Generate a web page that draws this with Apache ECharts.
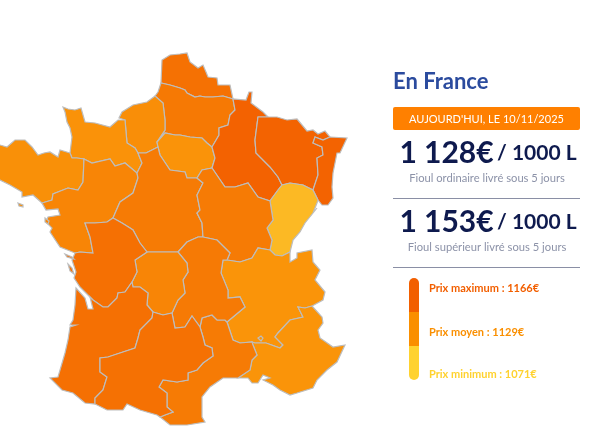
<!DOCTYPE html>
<html><head><meta charset="utf-8">
<style>html,body{margin:0;padding:0;background:#fff}#c{width:614px;height:443px}</style>
<script src="https://cdn.jsdelivr.net/npm/echarts@6/dist/echarts.min.js"></script>
</head><body><div id="c"></div>
<script>
// ---- data ----
const regionNames = ['Nord-Pas-de-Calais','Picardie','Haute-Normandie','Basse-Normandie','Bretagne','Pays de la Loire','Île-de-France','Centre','Champagne-Ardenne','Lorraine','Alsace','Franche-Comté','Bourgogne','Rhône-Alpes','PACA','Languedoc-Roussillon','Auvergne','Limousin','Poitou-Charentes','Aquitaine','Midi-Pyrénées'];
const regionPrices = [1150,1143,1124,1120,1122,1132,1119,1141,1163,1162,1162,1079,1141,1118,1118,1141,1142,1132,1151,1151,1150];
const colorStops = ['#FDC02A','#FA9409','#F25F00'];
const priceMin = 1071, priceMax = 1166;
const dateLabel = "AUJOURD'HUI, LE 10/11/2025";
const priceTexts = ['1 128€','1 153€'];
const priceUnit = '/ 1000 L';
const priceNotes = ['Fioul ordinaire livré sous 5 jours','Fioul supérieur livré sous 5 jours'];
const legendLabels = ['Prix maximum : 1166€','Prix moyen : 1129€','Prix minimum : 1071€'];
const legendColors = ['#F25F00','#FA8F00','#FFD22F'];

// map outline pieces, shared between neighbouring regions
const arcs = {
 nordCoast:[[161,83],[162,60],[170,55],[180,54],[187,53],[190,62],[198,68],[203,65],[206,72],[208,77],[217,78],[218,85],[230,85],[233,99]],
 nordPic:[[161,83],[170,85],[180,88],[185,90],[187,93],[195,97],[200,96],[205,97],[213,97],[223,96],[233,99]],
 picCoast:[[155,96],[158,92],[161,83]],
 picHN:[[155,96],[163,103],[165,120],[165,130],[157,142]],
 picIdf:[[157,142],[165,133],[175,135],[180,135],[190,137],[202,138],[207,143],[212,147]],
 picChamp:[[212,147],[219,135],[219,128],[228,125],[230,115],[235,110],[233,99]],
 hnCoast:[[125,120],[119,118],[122,112],[133,105],[147,102],[155,96]],
 hnBn:[[125,120],[127,143],[135,148],[138,153]],
 hnIdf:[[157,142],[158,147]],
 hnCentre:[[158,147],[146,153],[138,153]],
 bnCoast:[[70,153],[72,137],[70,128],[67,122],[65,112],[63,107],[68,109],[75,110],[81,108],[83,115],[85,122],[95,123],[110,127],[118,120],[125,120]],
 bnCentre:[[138,153],[142,163],[137,173]],
 bnPdl:[[137,173],[125,163],[115,166],[110,159],[92,163],[84,159]],
 bnBret:[[84,159],[77,158],[72,158],[70,153]],
 bretCoast:[[70,153],[60,150],[58,157],[50,152],[44,153],[38,155],[32,147],[25,140],[15,140],[7,147],[0,145],[-6,146],[-6,178],[0,180],[10,185],[22,192],[22,197],[33,195],[42,203]],
 bretPdl:[[84,159],[83,182],[78,190],[68,188],[53,194],[52,200],[42,203]],
 pdlCoast:[[42,203],[46,210],[58,209],[60,215],[48,217],[46,222],[52,228],[50,232],[60,247],[75,253]],
 pdlPoitou:[[75,253],[80,252],[93,253],[90,237],[85,223],[95,223],[107,222],[113,218]],
 pdlCentre:[[137,173],[138,178],[133,193],[120,202],[113,218]],
 idfCentre:[[158,147],[160,155],[170,170],[185,172],[187,178],[197,178]],
 idfBourg:[[212,168],[202,170],[197,178]],
 idfChamp:[[212,147],[215,158],[212,168]],
 centreBourg:[[197,178],[203,183],[197,195],[200,210],[197,213],[202,223],[203,237]],
 centrePoitou:[[113,218],[122,223],[130,228],[133,230],[140,243],[147,252]],
 centreLim:[[147,252],[163,252],[178,252]],
 centreAuv:[[178,252],[187,242],[198,237],[203,237]],
 champCoast:[[233,99],[246,100],[249,92],[252,92],[251,103],[263,112],[268,117]],
 champLor:[[268,117],[258,117],[255,140],[256,153],[270,167],[278,177],[282,185]],
 champFc:[[282,185],[278,190],[270,201]],
 champBourg:[[212,168],[225,187],[235,187],[248,183],[258,197],[270,201]],
 lorCoast:[[268,117],[277,117],[287,120],[297,119],[307,131],[313,130],[318,134],[325,131],[330,137]],
 lorAls:[[330,137],[323,140],[315,137],[313,143],[322,147],[323,155],[317,158],[318,175],[313,190]],
 lorFc:[[282,185],[290,183],[303,185],[313,190]],
 alsCoast:[[330,137],[347,138],[340,153],[337,153],[333,173],[332,187],[333,198],[328,205],[322,205],[318,200]],
 alsFc:[[313,190],[318,200]],
 fcCoast:[[318,200],[317,203],[313,213],[317,208],[305,223],[300,232],[293,240],[290,252]],
 fcRa:[[270,250],[275,255],[282,256],[290,252]],
 fcBourg:[[270,201],[273,220],[267,228],[272,240],[270,250]],
 bourgAuv:[[203,237],[217,240],[230,253],[227,260]],
 bourgRa:[[227,260],[240,262],[252,258],[258,248],[270,250]],
 raCoast:[[290,252],[290,262],[297,258],[297,253],[312,250],[313,262],[320,270],[315,280],[325,292],[323,300],[312,306]],
 raPaca:[[312,306],[305,308],[298,307],[303,317],[290,320],[278,333],[275,337],[283,345],[280,348],[266,343],[255,343],[252,342]],
 raAuv:[[227,260],[223,260],[221,273],[228,290],[228,298],[240,297],[245,307],[227,322]],
 raLr:[[227,322],[233,340],[240,343],[252,342]],
 pacaLr:[[252,342],[253,345],[257,355],[252,360],[250,370],[238,378]],
 pacaCoast:[[238,378],[248,378],[252,383],[258,383],[263,375],[270,378],[263,380],[273,385],[280,390],[290,395],[297,393],[313,388],[317,380],[327,370],[337,362],[345,345],[333,347],[320,338],[318,330],[323,323],[322,317],[312,306]],
 lrCoast:[[238,378],[223,378],[210,387],[202,397],[202,417],[205,422],[187,425],[170,425],[160,417]],
 lrMp:[[200,327],[203,337],[205,345],[212,348],[213,356],[203,363],[197,370],[188,373],[188,380],[177,382],[163,380],[159,387],[167,393],[167,407],[173,412],[165,415],[160,417]],
 auvLr:[[200,327],[202,318],[212,315],[217,320],[225,320],[227,322]],
 auvLim:[[178,252],[187,263],[188,272],[183,280],[185,293],[178,300],[172,313]],
 auvMp:[[172,313],[175,328],[185,327],[192,316],[200,327]],
 limPoitou:[[147,252],[135,260],[137,272],[132,282]],
 limAquit:[[132,282],[133,287],[140,287],[148,293],[147,305],[153,312]],
 limMp:[[153,312],[163,315],[172,313]],
 poitouCoast:[[75,253],[72,260],[76,272],[74,278],[80,287],[90,297]],
 poitouAquit:[[132,282],[125,292],[118,293],[117,298],[108,307],[103,307],[93,300],[90,297]],
 aquitCoast:[[90,297],[93,309],[88,309],[85,298],[76,288],[75,305],[73,320],[70,325],[76,325],[70,327],[68,340],[65,353],[58,377],[50,378],[62,390],[73,393],[85,403],[95,404]],
 aquitMp:[[153,312],[152,318],[140,330],[138,338],[135,348],[120,353],[108,357],[100,358],[100,372],[107,377],[103,390],[95,398],[95,404]],
 mpSouth:[[95,404],[107,410],[123,410],[127,404],[140,410],[157,415],[160,417]]
};
const rings = [
 'nordCoast -nordPic','picCoast nordPic -picChamp -picIdf -picHN','hnCoast picHN hnIdf hnCentre -hnBn',
 'bnCoast hnBn bnCentre bnPdl bnBret','bretCoast -bretPdl bnBret','-bnPdl pdlCentre -pdlPoitou -pdlCoast -bretPdl',
 'picIdf idfChamp idfBourg -idfCentre -hnIdf','hnCentre bnCentre pdlCentre centrePoitou centreLim centreAuv -centreBourg -idfCentre',
 'picChamp champCoast champLor champFc -champBourg -idfChamp','lorCoast lorAls -lorFc -champLor','alsCoast -alsFc -lorAls',
 'lorFc alsFc fcCoast -fcRa -fcBourg -champFc','idfBourg centreBourg bourgAuv bourgRa -fcBourg -champBourg',
 'fcRa raCoast raPaca -raLr -raAuv bourgRa','raPaca pacaLr pacaCoast','raLr pacaLr lrCoast -lrMp auvLr',
 'centreAuv bourgAuv raAuv -auvLr -auvMp -auvLim','centreLim auvLim -limMp -limAquit -limPoitou',
 'pdlPoitou centrePoitou limPoitou poitouAquit -poitouCoast','-poitouAquit limAquit aquitMp -aquitCoast',
 'limMp auvMp lrMp -mpSouth -aquitMp'
];
const islands = [['Belle-Île',[[18,203],[23,205],[23,207],[19,206]],1122],['Noirmoutier',[[45,218],[49,221],[48,224],[45,222]],1132],['Ré',[[65,254],[72,257],[74,259],[67,257]],1151],['Oléron',[[68,264],[72,268],[74,274],[70,271]],1151],['Avignon',[[258,338],[261,336],[263,338],[261,341]],1118]];

// ---- build map ----
const toGeo = p => [p[0], 443 - p[1]];
function ringCoords(spec){
  let out = [];
  spec.split(' ').forEach(k => {
    const rev = k[0] === '-';
    const a = arcs[rev ? k.slice(1) : k];
    const pts = rev ? a.slice().reverse() : a;
    out = out.concat(out.length ? pts.slice(1) : pts);
  });
  return out.map(toGeo);
}
const features = regionNames.map((n,i) => ({type:'Feature',properties:{name:n},geometry:{type:'Polygon',coordinates:[ringCoords(rings[i])]}}));
islands.forEach(s => { const c = s[1].map(toGeo); c.push(c[0]); features.push({type:'Feature',properties:{name:s[0]},geometry:{type:'Polygon',coordinates:[c]}}); });
echarts.registerMap('fr',{type:'FeatureCollection',features});
const mapData = regionNames.map((n,i)=>({name:n,value:regionPrices[i]})).concat(islands.map(s=>({name:s[0],value:s[2]})));

// ---- side panel ----
const FONT='Lato';
const g=[];
const txt=(x,y,text,size,color,weight,align)=>g.push({type:'text',x,y,style:{text,font:`${weight||'normal'} ${size}px ${FONT}`,fill:color,align:align||'left',verticalAlign:'middle'}});
txt(393,82,'En France',22,'#2B4B9E','bold');
g.push({type:'rect',shape:{x:393,y:107,width:187,height:23,r:2},style:{fill:'#FF8000'}});
txt(486.5,119,dateLabel,11,'#fff','normal','center');
[[153,178],[222,247]].forEach((r,i)=>{
  g.push({type:'text',x:488,y:r[0],style:{text:`{a|${priceTexts[i]}} {b|${priceUnit}}`,align:'center',verticalAlign:'middle',rich:{a:{font:`bold 30px ${FONT}`,fill:'#0E1A4E'},b:{font:`bold 21px ${FONT}`,fill:'#0E1A4E'}}}});
  txt(487,r[1],priceNotes[i],11.2,'#8C92A8','normal','center');
});
[198,267].forEach(y=>g.push({type:'line',shape:{x1:393,y1:y+.5,x2:580,y2:y+.5},style:{stroke:'#8A8FA5',lineWidth:1}}));
g.push({type:'rect',shape:{x:409,y:278,width:10,height:34,r:[5,5,0,0]},style:{fill:legendColors[0]}});
g.push({type:'rect',shape:{x:409,y:312,width:10,height:34,r:0},style:{fill:legendColors[1]}});
g.push({type:'rect',shape:{x:409,y:346,width:10,height:34,r:[0,0,5,5]},style:{fill:legendColors[2]}});
[288,332,374].forEach((y,i)=>txt(429,y,legendLabels[i],11,legendColors[i],'bold'));

echarts.init(document.getElementById('c'),null,{renderer:'canvas'}).setOption({
  animation:false,backgroundColor:'#fff',
  visualMap:{show:false,type:'continuous',min:priceMin,max:priceMax,inRange:{color:colorStops}},
  series:[{type:'map',map:'fr',aspectScale:1,roam:false,silent:true,left:0,top:0,width:614,height:443,
    boundingCoords:[[0,443],[614,0]],label:{show:false},
    itemStyle:{borderColor:'#BDBDBD',borderWidth:1.2},data:mapData}],
  graphic:g
});
</script></body></html>
